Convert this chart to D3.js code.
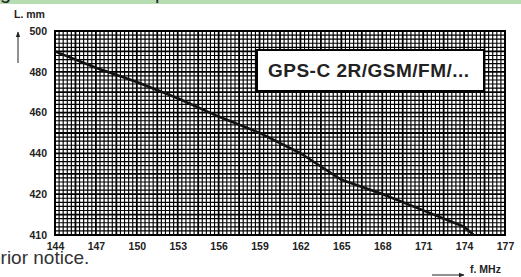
<!DOCTYPE html>
<html>
<head>
<meta charset="utf-8">
<script src="https://cdn.jsdelivr.net/npm/d3@7"></script>
<style>
  body { margin: 0; background: #fff; }
  svg { display: block; font-family: "Liberation Sans", Arial, sans-serif; }
</style>
</head>
<body>
<div id="chart"></div>
<script>
// frequency (MHz) vs antenna length (mm)
const freqs = [144, 147, 150, 153, 156, 159, 162, 165, 168, 171, 174, 174.7];
const lengths = [490, 482, 475, 467, 458, 450, 440, 427, 420, 416, 412, 410];
const xTicks = [144, 147, 150, 153, 156, 159, 162, 165, 168, 171, 174, 177];
const yTicks = [500, 480, 460, 440, 420, 410];

const width = 521, height = 277;
const plot = { left: 55, right: 505, top: 31, bottom: 235 };

const svg = d3.select('#chart').append('svg')
    .attr('width', width)
    .attr('height', height);

// page header strip, cut off at the top
svg.append('rect').attr('x', 0).attr('y', 0).attr('width', width).attr('height', 4).attr('fill', '#b6dcb2');
svg.append('text').attr('x', 0).attr('y', -1).attr('font-size', 20).attr('fill', '#222').text('g');
svg.append('text').attr('x', 155).attr('y', -1).attr('font-size', 20).attr('fill', '#222').text('p');

const x = d3.scaleLinear().domain([144, 177]).range([plot.left, plot.right]);
// bottom label step is 10 mm, the others 20 mm, over the same spacing
const y = d3.scaleLinear().domain([410, 420, 500]).range([plot.bottom, plot.bottom - 41, plot.top]);

const grid = svg.append('g');
grid.append('rect')
    .attr('x', plot.left).attr('y', plot.top)
    .attr('width', plot.right - plot.left).attr('height', plot.bottom - plot.top)
    .attr('fill', '#fff');

// vertical grid: every 0.3 MHz, heavier every 1.5 MHz
d3.range(0, 111).forEach(i => {
    const xv = x(144 + i * 0.3);
    grid.append('line')
        .attr('x1', xv).attr('x2', xv)
        .attr('y1', plot.top).attr('y2', plot.bottom)
        .attr('stroke', '#000')
        .attr('stroke-width', i % 5 === 0 ? 1.8 : 1.15);
});
// horizontal grid: graph paper rows of equal height
const rows = 50;
d3.range(0, rows + 1).forEach(i => {
    const yv = plot.top + i * (plot.bottom - plot.top) / rows;
    grid.append('line')
        .attr('x1', plot.left).attr('x2', plot.right)
        .attr('y1', yv).attr('y2', yv)
        .attr('stroke', '#000')
        .attr('stroke-width', i % 5 === 0 ? 1.8 : 1.15);
});

svg.append('rect')
    .attr('x', plot.left).attr('y', plot.top)
    .attr('width', plot.right - plot.left).attr('height', plot.bottom - plot.top)
    .attr('fill', 'none').attr('stroke', '#000').attr('stroke-width', 2);

// label box
const box = svg.append('g');
box.append('rect')
    .attr('x', 257).attr('y', 50).attr('width', 227).attr('height', 41)
    .attr('fill', '#fff').attr('stroke', '#000').attr('stroke-width', 2);
box.append('text')
    .attr('x', 268).attr('y', 77)
    .attr('font-size', 19).attr('font-weight', 'bold')
    .attr('letter-spacing', 0.5)
    .attr('fill', '#222')
    .text('GPS-C 2R/GSM/FM/...');

const line = d3.line()
    .x((d, i) => x(freqs[i]))
    .y(d => y(d));

svg.append('path')
    .attr('d', line(lengths))
    .attr('fill', 'none')
    .attr('stroke', '#111')
    .attr('stroke-width', 2.6)
    .attr('stroke-linejoin', 'round');

// axes
svg.append('g')
    .attr('transform', `translate(0,${plot.bottom + 2})`)
    .call(d3.axisBottom(x).tickValues(xTicks).tickSize(0).tickPadding(6).tickFormat(d3.format('d')))
    .call(g => g.select('.domain').remove())
    .call(g => g.selectAll('.tick text')
        .attr('font-size', 10.5).attr('font-weight', 'bold')
        .attr('font-family', '"Liberation Sans", Arial, sans-serif')
        .attr('fill', '#222'));

svg.append('g')
    .attr('transform', `translate(${plot.left - 8},0)`)
    .call(d3.axisLeft(y).tickValues(yTicks).tickSize(0).tickPadding(0).tickFormat(d3.format('d')))
    .call(g => g.select('.domain').remove())
    .call(g => g.selectAll('.tick text')
        .attr('font-size', 10.5).attr('font-weight', 'bold')
        .attr('font-family', '"Liberation Sans", Arial, sans-serif')
        .attr('fill', '#222'));

// axis titles with arrows
const defs = svg.append('defs');
defs.append('marker')
    .attr('id', 'arrow').attr('viewBox', '0 0 10 10')
    .attr('refX', 9).attr('refY', 5)
    .attr('markerWidth', 6).attr('markerHeight', 6)
    .attr('orient', 'auto')
    .append('path').attr('d', 'M0,1 L10,5 L0,9 Z').attr('fill', '#222');

svg.append('text').attr('x', 14).attr('y', 18)
    .attr('font-size', 10.5).attr('font-weight', 'bold').attr('fill', '#222').text('L. mm');
svg.append('line').attr('x1', 18).attr('x2', 18).attr('y1', 63).attr('y2', 32)
    .attr('stroke', '#222').attr('stroke-width', 1).attr('marker-end', 'url(#arrow)');

svg.append('text').attr('x', 470).attr('y', 273)
    .attr('font-size', 10.5).attr('font-weight', 'bold').attr('fill', '#222').text('f. MHz');
svg.append('line').attr('x1', 432).attr('x2', 464).attr('y1', 275).attr('y2', 275)
    .attr('stroke', '#222').attr('stroke-width', 1).attr('marker-end', 'url(#arrow)');

svg.append('text').attr('x', -10).attr('y', 264)
    .attr('font-size', 19).attr('fill', '#333')
    .attr('font-family', '"Liberation Sans", Arial, sans-serif')
    .text('prior notice.');
</script>
</body>
</html>
